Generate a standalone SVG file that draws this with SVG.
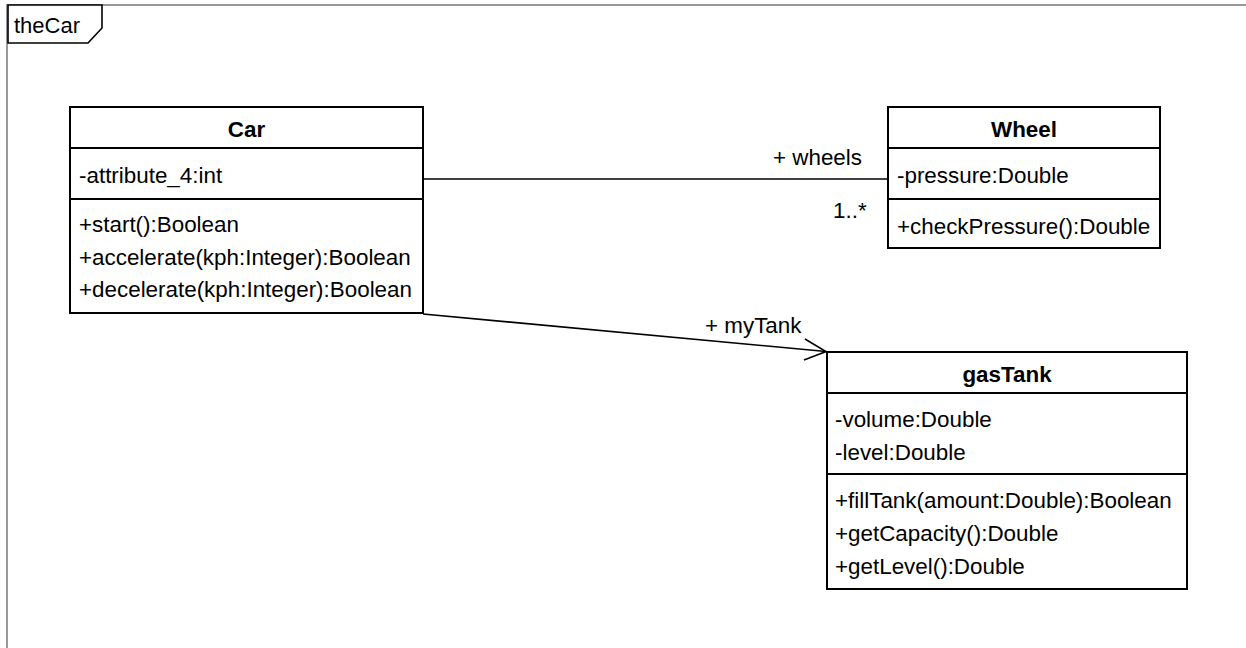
<svg xmlns="http://www.w3.org/2000/svg" width="1246" height="648" viewBox="0 0 1246 648">
<style>
text{font-family:"Liberation Sans",Arial,Helvetica,sans-serif;font-size:22.4px;fill:#000}
.title{font-weight:bold;text-anchor:middle}
.box{fill:#fff;stroke:#000;stroke-width:2}
.sep{stroke:#000;stroke-width:2}
.conn{fill:none;stroke:#000;stroke-width:1.6}
.frame{fill:none;stroke:#999;stroke-width:2}
</style>
<rect x="0" y="0" width="1246" height="648" fill="#fff"/>
<g id="frame">
<path class="frame" d="M7,648 V5 H1246"/>
<path d="M8,5 H102 V28 L88,43 H8 Z" fill="#fff" stroke="#000" stroke-width="1.6"/>
<text x="14" y="33" style="font-size:22px">theCar</text>
</g>
<g id="connectors">
<line class="conn" x1="423" y1="179" x2="888" y2="179"/>
<text x="773" y="165">+ wheels</text>
<text x="833" y="218">1..*</text>
<line class="conn" x1="423" y1="314" x2="826" y2="351.5"/>
<path class="conn" d="M805,339 L826,351.5 L804,360"/>
<text x="705" y="333">+ myTank</text>
</g>
<g id="Car">
<rect class="box" x="70" y="107" width="353" height="206"/>
<line class="sep" x1="70" y1="148" x2="423" y2="148"/>
<line class="sep" x1="70" y1="199" x2="423" y2="199"/>
<text class="title" x="246.5" y="137">Car</text>
<text x="79" y="183">-attribute_4:int</text>
<text x="79" y="232">+start():Boolean</text>
<text x="79" y="265">+accelerate(kph:Integer):Boolean</text>
<text x="79" y="297">+decelerate(kph:Integer):Boolean</text>
</g>
<g id="Wheel">
<rect class="box" x="888" y="107" width="272" height="141"/>
<line class="sep" x1="888" y1="148" x2="1160" y2="148"/>
<line class="sep" x1="888" y1="199" x2="1160" y2="199"/>
<text class="title" x="1024" y="137">Wheel</text>
<text x="897" y="183">-pressure:Double</text>
<text x="897" y="234">+checkPressure():Double</text>
</g>
<g id="gasTank">
<rect class="box" x="827" y="352" width="360" height="237"/>
<line class="sep" x1="827" y1="393" x2="1187" y2="393"/>
<line class="sep" x1="827" y1="474" x2="1187" y2="474"/>
<text class="title" x="1007" y="382">gasTank</text>
<text x="835" y="427">-volume:Double</text>
<text x="835" y="460">-level:Double</text>
<text x="835" y="508">+fillTank(amount:Double):Boolean</text>
<text x="835" y="541">+getCapacity():Double</text>
<text x="835" y="574">+getLevel():Double</text>
</g>
</svg>
